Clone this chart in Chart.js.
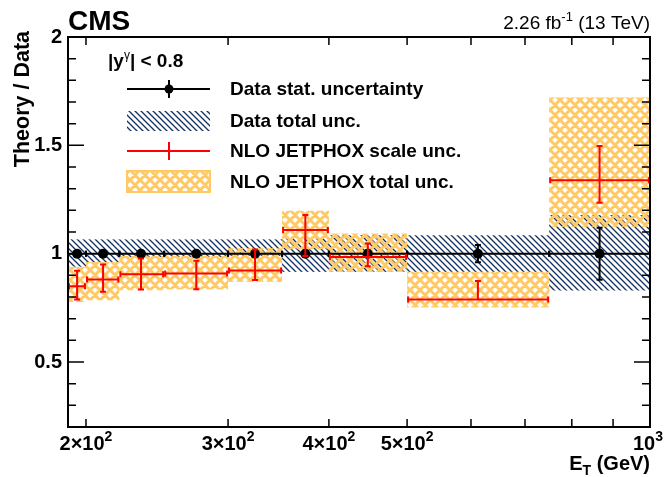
<!DOCTYPE html>
<html>
<head>
<meta charset="utf-8">
<script src="https://cdn.jsdelivr.net/npm/chart.js@4"></script>
<style>
  html, body { margin: 0; padding: 0; background: #fff; }
  #wrap { width: 664px; height: 477px; }
</style>
</head>
<body>
<div id="wrap"><canvas id="graficoRazao" width="664" height="477"></canvas></div>
<script>
// bins in E_T (GeV)
const binEdges = [190, 200, 220, 250, 300, 350, 400, 500, 750, 1000];
const binCenters = [195, 210, 234, 274, 324, 374, 447, 612, 866];

// data (ratio = 1) with stat and total uncertainty
const dataRatio = [1, 1, 1, 1, 1, 1, 1, 1, 1];
const dataStatUnc = [0.005, 0.005, 0.006, 0.007, 0.008, 0.01, 0.015, 0.04, 0.12];
const dataTotHigh = [1.066, 1.066, 1.066, 1.066, 1.066, 1.07, 1.085, 1.085, 1.178];
const dataTotLow = [0.94, 0.96, 0.985, 0.985, 0.99, 0.916, 0.916, 0.916, 0.83];

// NLO JETPHOX / data
const theoryRatio = [0.850, 0.881, 0.905, 0.909, 0.922, 1.109, 0.985, 0.788, 1.339];
const scaleUncUp = [0.071, 0.069, 0.073, 0.058, 0.097, 0.069, 0.062, 0.086, 0.158];
const scaleUncDown = [0.062, 0.057, 0.070, 0.073, 0.044, 0.120, 0.043, 0.0, 0.104];
const theoryTotHigh = [0.939, 0.962, 0.99, 0.99, 1.025, 1.198, 1.093, 0.916, 1.721];
const theoryTotLow = [0.777, 0.785, 0.831, 0.835, 0.87, 1.02, 0.916, 0.752, 1.124];

// axis ticks
const yTickValues = [0.5, 1, 1.5, 2];
const xTickValues = [200, 300, 400, 500, 1000];
const xTickLabels = ['2×10', '3×10', '4×10', '5×10', '10'];
const xTickExps = ['2', '2', '2', '2', '3'];
const xSmallTicks = [200, 300, 400, 500, 600, 700, 800, 900];

const FONTE = '"Liberation Sans", Arial, Helvetica, sans-serif';
const LARANJA = 'rgb(255,201,102)';
const AZUL = '#123060';

const ctx = document.getElementById('graficoRazao').getContext('2d');

function criarHachura() {
  const c = document.createElement('canvas');
  c.width = 6; c.height = 6;
  const g = c.getContext('2d');
  g.strokeStyle = AZUL;
  g.lineWidth = 1.3;
  g.beginPath();
  g.moveTo(-1, -1); g.lineTo(7, 7);
  g.moveTo(-1, 5); g.lineTo(1, 7);
  g.moveTo(5, -1); g.lineTo(7, 1);
  g.stroke();
  return ctx.createPattern(c, 'repeat');
}

function criarXadrez() {
  const c = document.createElement('canvas');
  c.width = 10; c.height = 10;
  const g = c.getContext('2d');
  g.strokeStyle = LARANJA;
  g.lineWidth = 3;
  g.beginPath();
  for (const k of [-10, 0, 10]) {
    g.moveTo(k, 0); g.lineTo(k + 10, 10);
    g.moveTo(k + 10, 0); g.lineTo(k, 10);
  }
  g.stroke();
  return ctx.createPattern(c, 'repeat');
}

const hachura = criarHachura();
const xadrez = criarXadrez();

// text with sub/superscripts
function textoPartes(c, partes, x, y, align) {
  let w = 0;
  partes.forEach(p => { c.font = p.font; p.w = c.measureText(p.t).width; w += p.w; });
  let cx = align === 'right' ? x - w : (align === 'center' ? x - w / 2 : x);
  if (cx + w > 663) cx = 663 - w;
  c.textAlign = 'left';
  partes.forEach(p => { c.font = p.font; c.fillText(p.t, cx, y + (p.dy || 0)); cx += p.w; });
}

const barrasErro = {
  id: 'barrasErro',
  beforeDatasetsDraw(chart) {
    const c = chart.ctx, sx = chart.scales.x, sy = chart.scales.y, a = chart.chartArea;
    c.save();
    c.beginPath();
    c.rect(a.left, a.top, a.right - a.left, a.bottom - a.top);
    c.clip();
    // data total unc.
    for (let i = 0; i < binCenters.length; i++) {
      const x0 = sx.getPixelForValue(binEdges[i]), x1 = sx.getPixelForValue(binEdges[i + 1]);
      const y0 = sy.getPixelForValue(dataTotHigh[i]), y1 = sy.getPixelForValue(dataTotLow[i]);
      c.fillStyle = hachura;
      c.fillRect(x0, y0, x1 - x0, y1 - y0);
    }
    // theory total unc.
    for (let i = 0; i < binCenters.length; i++) {
      const x0 = sx.getPixelForValue(binEdges[i]), x1 = sx.getPixelForValue(binEdges[i + 1]);
      const y0 = sy.getPixelForValue(theoryTotHigh[i]), y1 = sy.getPixelForValue(theoryTotLow[i]);
      c.fillStyle = xadrez;
      c.fillRect(x0, y0, x1 - x0, y1 - y0);
    }
    // data stat. bars
    c.strokeStyle = '#000';
    c.lineWidth = 2;
    for (let i = 0; i < binCenters.length; i++) {
      const x0 = sx.getPixelForValue(binEdges[i]), x1 = sx.getPixelForValue(binEdges[i + 1]);
      const xc = sx.getPixelForValue(binCenters[i]);
      const yc = sy.getPixelForValue(dataRatio[i]);
      const yh = sy.getPixelForValue(dataRatio[i] + dataStatUnc[i]);
      const yl = sy.getPixelForValue(dataRatio[i] - dataStatUnc[i]);
      c.beginPath();
      c.moveTo(x0, yc); c.lineTo(x1, yc);
      c.moveTo(x0, yc - 3); c.lineTo(x0, yc + 3);
      c.moveTo(x1, yc - 3); c.lineTo(x1, yc + 3);
      c.moveTo(xc, yh); c.lineTo(xc, yl);
      c.moveTo(xc - 3, yh); c.lineTo(xc + 3, yh);
      c.moveTo(xc - 3, yl); c.lineTo(xc + 3, yl);
      c.stroke();
    }
    c.restore();
  },
  afterDatasetsDraw(chart) {
    const c = chart.ctx, sx = chart.scales.x, sy = chart.scales.y;
    c.save();
    c.strokeStyle = '#ff0000';
    c.lineWidth = 2;
    for (let i = 0; i < binCenters.length; i++) {
      const x0 = sx.getPixelForValue(binEdges[i]) + 1, x1 = sx.getPixelForValue(binEdges[i + 1]) - 1;
      const xc = sx.getPixelForValue(binCenters[i]);
      const yc = sy.getPixelForValue(theoryRatio[i]);
      const yh = sy.getPixelForValue(theoryRatio[i] + scaleUncUp[i]);
      const yl = sy.getPixelForValue(theoryRatio[i] - scaleUncDown[i]);
      c.beginPath();
      c.moveTo(x0, yc); c.lineTo(x1, yc);
      c.moveTo(x0, yc - 3); c.lineTo(x0, yc + 3);
      c.moveTo(x1, yc - 3); c.lineTo(x1, yc + 3);
      c.moveTo(xc, yh); c.lineTo(xc, yl);
      c.moveTo(xc - 3, yh); c.lineTo(xc + 3, yh);
      if (scaleUncDown[i] > 0) { c.moveTo(xc - 3, yl); c.lineTo(xc + 3, yl); }
      c.stroke();
    }
    c.restore();
  },
  afterDraw(chart) {
    const c = chart.ctx, sx = chart.scales.x, sy = chart.scales.y, a = chart.chartArea;
    c.save();
    // frame
    c.strokeStyle = '#000';
    c.lineWidth = 2;
    c.strokeRect(a.left, a.top, a.right - a.left, a.bottom - a.top);
    // y ticks both sides
    c.lineWidth = 1.5;
    c.beginPath();
    for (let k = 3; k < 20; k++) {
      const v = k / 10;
      const yp = sy.getPixelForValue(v);
      const len = (k % 5 === 0) ? 16 : 8;
      c.moveTo(a.left, yp); c.lineTo(a.left + len, yp);
      c.moveTo(a.right, yp); c.lineTo(a.right - len, yp);
    }
    // x ticks top and bottom
    xSmallTicks.forEach(v => {
      const xp = sx.getPixelForValue(v);
      c.moveTo(xp, a.bottom); c.lineTo(xp, a.bottom - 8);
      c.moveTo(xp, a.top); c.lineTo(xp, a.top + 8);
    });
    c.stroke();

    c.fillStyle = '#000';
    c.textBaseline = 'alphabetic';
    // x tick labels
    xTickValues.forEach((v, i) => {
      textoPartes(c, [
        { t: xTickLabels[i], font: 'bold 20px ' + FONTE },
        { t: xTickExps[i], font: 'bold 14px ' + FONTE, dy: -9 }
      ], sx.getPixelForValue(v), 450, 'center');
    });
    // axis titles
    textoPartes(c, [
      { t: 'E', font: 'bold 20px ' + FONTE },
      { t: 'T', font: 'bold 14px ' + FONTE, dy: 5 },
      { t: ' (GeV)', font: 'bold 20px ' + FONTE }
    ], 650, 470, 'right');
    c.save();
    c.translate(29, 31);
    c.rotate(-Math.PI / 2);
    c.font = 'bold 21.5px ' + FONTE;
    c.textAlign = 'right';
    c.fillText('Theory / Data', 0, 0);
    c.restore();

    // CMS and lumi
    c.font = 'bold 28px ' + FONTE;
    c.textAlign = 'left';
    c.fillText('CMS', 68, 30);
    textoPartes(c, [
      { t: '2.26 fb', font: '19px ' + FONTE },
      { t: '-1', font: '13px ' + FONTE, dy: -8 },
      { t: ' (13 TeV)', font: '19px ' + FONTE }
    ], 650, 29, 'right');

    // legend
    textoPartes(c, [
      { t: '|y', font: 'bold 19px ' + FONTE },
      { t: 'γ', font: '12px ' + FONTE, dy: -8 },
      { t: '| < 0.8', font: 'bold 19px ' + FONTE }
    ], 108, 67, 'left');

    const lx0 = 127, lx1 = 210, lxc = 169, tx = 230;
    const linhas = [89, 121, 151, 182];
    // row 1: data stat.
    c.strokeStyle = '#000'; c.lineWidth = 2;
    c.beginPath();
    c.moveTo(lx0, linhas[0]); c.lineTo(lx1, linhas[0]);
    c.moveTo(lxc, linhas[0] - 9); c.lineTo(lxc, linhas[0] + 9);
    c.stroke();
    c.beginPath(); c.arc(lxc, linhas[0], 4.5, 0, Math.PI * 2); c.fill();
    // row 2: data total
    c.fillStyle = hachura;
    c.fillRect(lx0, 111, lx1 - lx0, 20);
    // row 3: scale unc
    c.strokeStyle = '#ff0000';
    c.beginPath();
    c.moveTo(lx0, linhas[2]); c.lineTo(lx1, linhas[2]);
    c.moveTo(lxc, linhas[2] - 9); c.lineTo(lxc, linhas[2] + 9);
    c.stroke();
    // row 4: total unc
    c.fillStyle = xadrez;
    c.fillRect(lx0, 171, lx1 - lx0, 21);
    c.strokeStyle = LARANJA; c.lineWidth = 2;
    c.strokeRect(lx0, 171, lx1 - lx0, 21);

    c.fillStyle = '#000';
    c.font = 'bold 19px ' + FONTE;
    c.textAlign = 'left';
    c.textBaseline = 'middle';
    const textos = ['Data stat. uncertainty', 'Data total unc.', 'NLO JETPHOX scale unc.', 'NLO JETPHOX total unc.'];
    textos.forEach((t, i) => c.fillText(t, tx, linhas[i] + 1));
    c.restore();
  }
};

new Chart(ctx, {
  type: 'scatter',
  data: {
    datasets: [{
      label: 'Data stat. uncertainty',
      data: binCenters.map((x, i) => ({ x: x, y: dataRatio[i] })),
      pointRadius: 5,
      pointBackgroundColor: '#000',
      pointBorderColor: '#000',
      pointBorderWidth: 0,
      showLine: false
    }, {
      label: 'NLO JETPHOX scale unc.',
      data: binCenters.map((x, i) => ({ x: x, y: theoryRatio[i] })),
      pointRadius: 0,
      showLine: false
    }]
  },
  options: {
    responsive: false,
    animation: false,
    devicePixelRatio: 1,
    layout: { padding: { top: 37, right: 14, left: 0, bottom: 0 } },
    scales: {
      x: {
        type: 'logarithmic',
        min: 190,
        max: 1000,
        ticks: { display: false },
        grid: { display: false, drawTicks: false },
        border: { display: false },
        afterFit(s) { s.height = 50; }
      },
      y: {
        type: 'linear',
        min: 0.2,
        max: 2,
        afterBuildTicks(s) { s.ticks = yTickValues.map(v => ({ value: v })); },
        ticks: {
          color: '#000',
          padding: 6,
          font: { family: FONTE, size: 20, weight: 'bold' },
          callback: v => String(v)
        },
        grid: { display: false, drawTicks: false },
        border: { display: false },
        afterFit(s) { s.width = 68; }
      }
    },
    plugins: {
      legend: { display: false },
      tooltip: { enabled: false }
    }
  },
  plugins: [barrasErro]
});
</script>
</body>
</html>
